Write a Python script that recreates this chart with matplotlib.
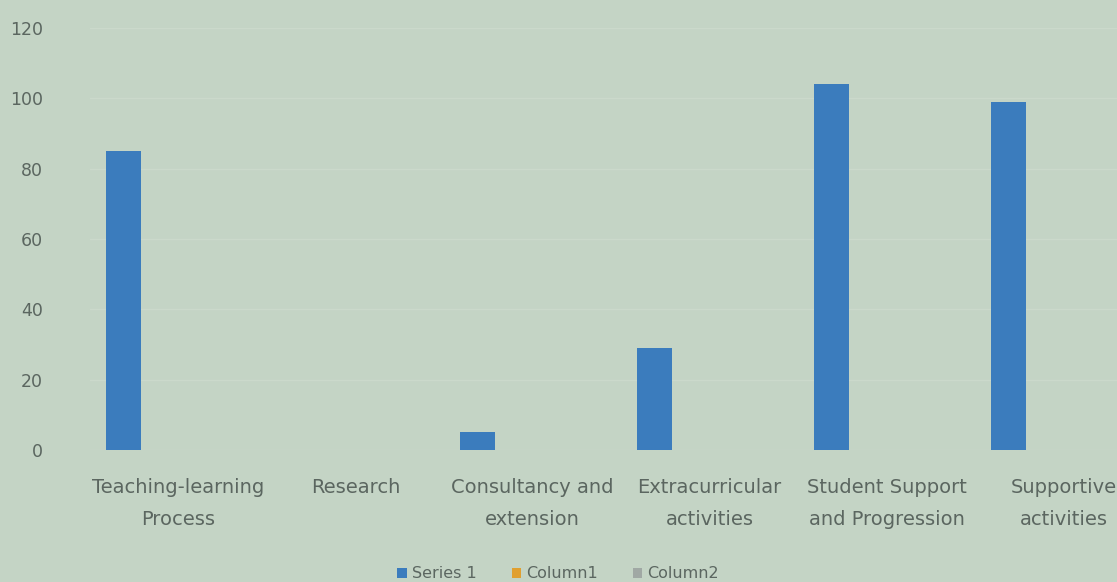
import numpy as np
from matplotlib import pyplot as plt

categories = ["Teaching-learning\nProcess", "Research", "Consultancy and\nextension",
              "Extracurricular\nactivities", "Student Support\nand Progression", "Supportive\nactivities"]
series1 = [85, 0, 5, 29, 104, 99]
column1 = [0, 0, 0, 0, 0, 0]
column2 = [0, 0, 0, 0, 0, 0]
yticks = [0, 20, 40, 60, 80, 100, 120]

bg = '#c4d4c5'
txt = '#5b6660'

fig = plt.figure(figsize=(11.17, 5.82), dpi=100, facecolor=bg)
ax = fig.add_axes([90/1117, 132/582, 1062/1117, 422/582])
ax.set_facecolor(bg)

x = np.arange(len(categories))
w = 0.2
ax.bar(x - 0.31, series1, w, color='#3b7cbd', label='Series 1')
ax.bar(x - 0.11, column1, w, color='#e0a030', label='Column1')
ax.bar(x + 0.09, column2, w, color='#a0a8a4', label='Column2')

ax.set_xlim(-0.5, len(categories) - 0.5)
ax.set_ylim(0, 120)
ax.set_yticks(yticks)
ax.set_xticks(x)
ax.set_xticklabels(categories, linespacing=1.85, fontsize=14)
ax.tick_params(axis='both', length=0, colors=txt)
ax.tick_params(axis='y', pad=34, labelsize=12.5)
ax.tick_params(axis='x', pad=20)
ax.grid(axis='y', color='#cbd9cb', linewidth=1)
ax.set_axisbelow(True)
for s in ax.spines.values():
    s.set_visible(False)

leg = fig.legend(loc='center', bbox_to_anchor=(558/1117, 8/582), ncol=3, frameon=False,
                 fontsize=11.5, handlelength=0.6, handleheight=0.6, handletextpad=0.3,
                 columnspacing=2.2, labelcolor=txt)

fig.savefig('out.png', dpi=100, facecolor=bg)
